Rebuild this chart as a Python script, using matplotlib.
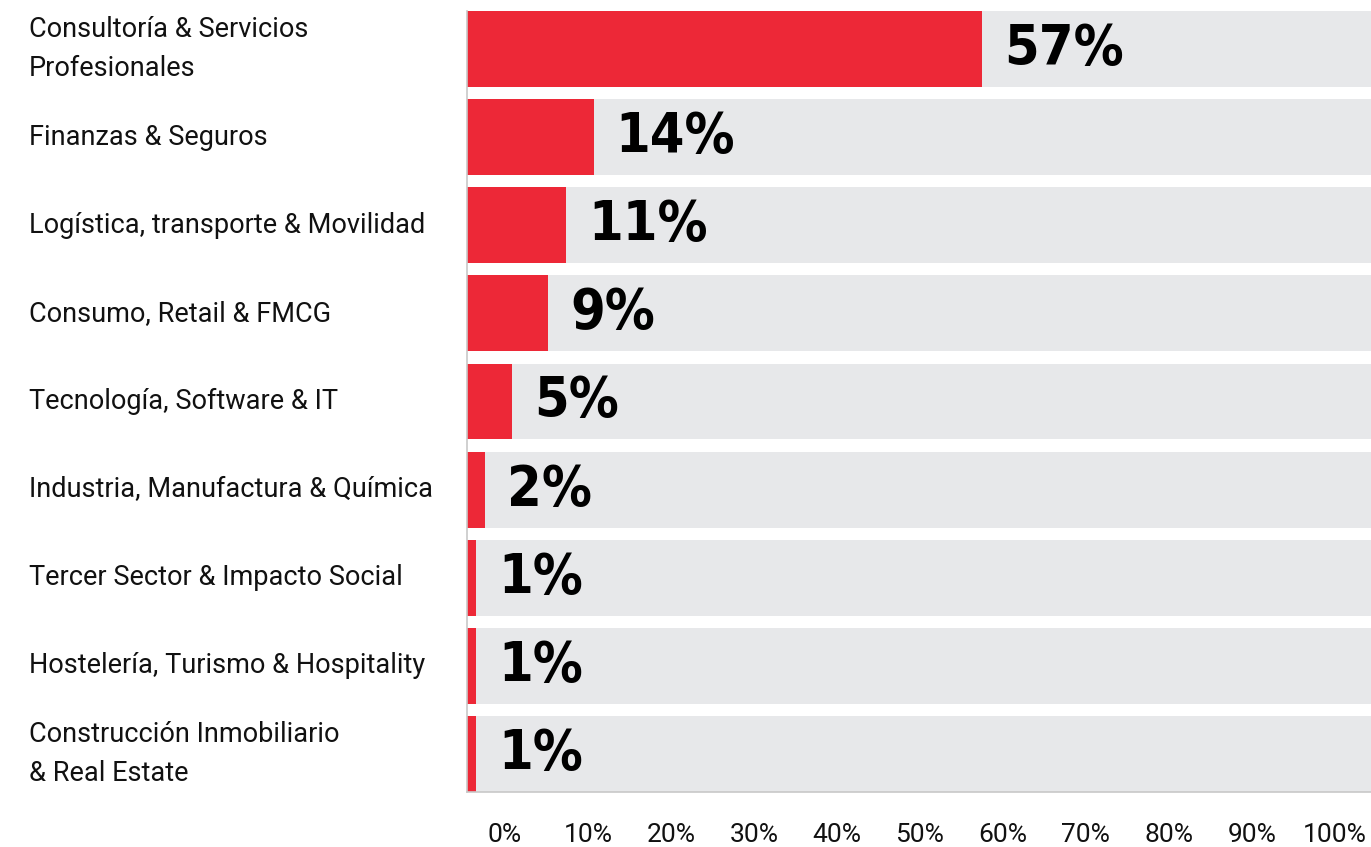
import matplotlib
matplotlib.use("Agg")
import matplotlib.pyplot as plt
from matplotlib import font_manager
import numpy as np

# datos
sectores = [
    "Consultoría & Servicios\nProfesionales",
    "Finanzas & Seguros",
    "Logística, transporte & Movilidad",
    "Consumo, Retail & FMCG",
    "Tecnología, Software & IT",
    "Industria, Manufactura & Química",
    "Tercer Sector & Impacto Social",
    "Hostelería, Turismo & Hospitality",
    "Construcción Inmobiliario\n& Real Estate",
]
porcentajes = [57, 14, 11, 9, 5, 2, 1, 1, 1]
tick_labels = ["0%", "10%", "20%", "30%", "40%", "50%", "60%", "70%", "80%", "90%", "100%"]

ROJO = "#ED2837"
GRIS = "#E7E8EA"


def fuente_estrecha():
    # busca una fuente condensada y gruesa si existe, si no DejaVu Sans Bold
    for f in font_manager.fontManager.ttflist:
        nombre = (f.name + " " + str(f.style) + " " + f.fname).lower()
        if ("condensed" in nombre or "narrow" in nombre) and "bold" in f.fname.lower() \
                and "oblique" not in f.fname.lower() and "italic" not in f.fname.lower():
            return font_manager.FontProperties(fname=f.fname), True
    return font_manager.FontProperties(family="DejaVu Sans", weight="bold"), False


fp_pct, es_estrecha = fuente_estrecha()
fp_pct.set_size(40 if es_estrecha else 34)

fig = plt.figure(figsize=(13.71, 8.47), dpi=100)
ax = fig.add_axes([467 / 1371, 1 - 792 / 847, 1 - 467 / 1371, (792 - 11) / 847])

y = np.arange(len(sectores))
alto = 0.86
ax.barh(y, [100] * len(y), height=alto, color=GRIS, zorder=1)
ax.barh(y, porcentajes, height=alto, color=ROJO, zorder=2)

for i, v in enumerate(porcentajes):
    ax.annotate(f"{v}%", xy=(v, i), xytext=(16, 0), textcoords="offset points",
                ha="left", va="center", fontproperties=fp_pct, color="black", zorder=3)

ax.set_xlim(0, 100)
ax.set_ylim(len(y) - 1 + alto / 2, -alto / 2)

# etiquetas de sectores a la izquierda
for i, s in enumerate(sectores):
    ax.text(-0.4845, i, s, transform=ax.get_yaxis_transform(), ha="left", va="center",
            fontsize=19.5, family="Roboto", color="#111111", linespacing=1.55)

ax.set_yticks([])
pos = np.linspace(4.2, 96.0, len(tick_labels))
ax.set_xticks(pos)
ax.set_xticklabels(tick_labels, fontsize=19, family="Roboto", color="#111111")
ax.tick_params(axis="x", length=0, pad=22)

for lado in ["top", "right"]:
    ax.spines[lado].set_visible(False)
ax.spines["left"].set_color("#c8c8c8")
ax.spines["bottom"].set_color("#c8c8c8")
ax.spines["left"].set_linewidth(1.2)
ax.spines["bottom"].set_linewidth(1.2)
ax.spines["left"].set_zorder(4)

fig.savefig("out.png", dpi=100)
